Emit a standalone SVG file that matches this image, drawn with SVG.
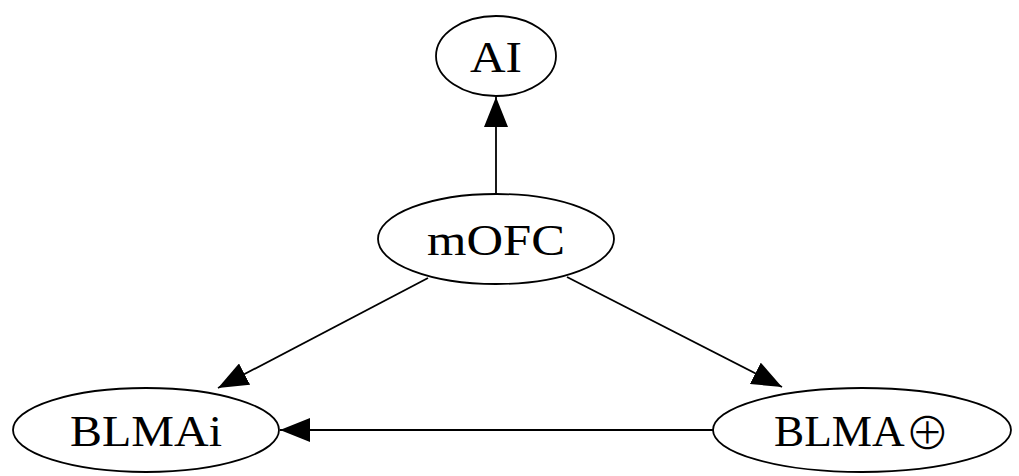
<svg xmlns="http://www.w3.org/2000/svg" width="1019" height="476" viewBox="0 0 1019 476">
<style>
.node ellipse{fill:none;stroke:#000;stroke-width:1.8}
.node text{font-family:"Liberation Serif","DejaVu Serif",serif;font-size:45px;fill:#000;text-anchor:middle}
.sym{font-family:"Noto Sans CJK JP","DejaVu Sans",sans-serif;font-weight:300}
.edge{stroke:#000;stroke-width:1.8;fill:none;marker-end:url(#ah)}
</style>
<defs>
<marker id="ah" markerUnits="userSpaceOnUse" markerWidth="30" markerHeight="24" refX="30" refY="12" orient="auto" viewBox="0 0 30 24">
<path d="M0,0 L30,12 L0,24 Z" fill="#000"/>
</marker>
</defs>
<rect width="1019" height="476" fill="#fff"/>
<g id="connectors">
<line class="edge" x1="496" y1="194" x2="496" y2="97"/>
<line class="edge" x1="428" y1="278" x2="218" y2="388"/>
<line class="edge" x1="567" y1="277" x2="782" y2="387"/>
<line class="edge" x1="713" y1="430" x2="280" y2="430"/>
</g>
<g id="AI" class="node">
<ellipse cx="496" cy="56" rx="60" ry="40"/>
<text x="496" y="72" textLength="52" lengthAdjust="spacingAndGlyphs">AI</text>
</g>
<g id="mOFC" class="node">
<ellipse cx="496" cy="239" rx="118" ry="45"/>
<text x="496" y="255" textLength="138" lengthAdjust="spacingAndGlyphs">mOFC</text>
</g>
<g id="BLMAi" class="node">
<ellipse cx="146" cy="430" rx="133" ry="42"/>
<text x="146" y="446" textLength="152" lengthAdjust="spacingAndGlyphs">BLMAi</text>
</g>
<g id="BLMAplus" class="node">
<ellipse cx="862" cy="430" rx="149" ry="42"/>
<text x="862" y="446" textLength="176" lengthAdjust="spacingAndGlyphs">BLMA<tspan class="sym" dy="4">⊕</tspan></text>
</g>
</svg>
